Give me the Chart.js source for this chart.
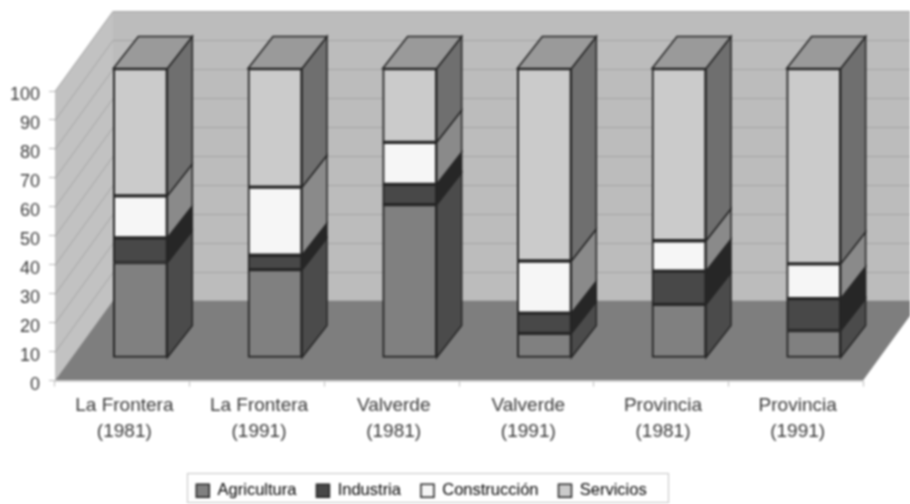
<!DOCTYPE html>
<html>
<head>
<meta charset="utf-8">
<style>
html,body{margin:0;padding:0;background:#fff}
#wrap{width:910px;height:504px;filter:blur(0.8px)}
</style>
<script src="https://cdn.jsdelivr.net/npm/chart.js@4"></script>
</head>
<body>
<div id="wrap"><canvas id="c" width="910" height="504"></canvas></div>
<script>
const categories = [["La Frontera","(1981)"],["La Frontera","(1991)"],["Valverde","(1981)"],["Valverde","(1991)"],["Provincia","(1981)"],["Provincia","(1991)"]];
const agricultura  = [33, 30.5, 53, 8.5, 18.5, 9.5];
const industria    = [8.5, 5, 7, 7, 11.5, 11];
const construccion = [14.5, 23.5, 14.5, 18, 10.5, 12];
const servicios    = [44, 41, 25.5, 66.5, 59.5, 67.5];
const yTicks = [0,10,20,30,40,50,60,70,80,90,100];

const seriesStyle = [
  {front:'#808080', side:'#4b4b4b'},
  {front:'#484848', side:'#262626'},
  {front:'#f6f6f6', side:'#8a8a8a'},
  {front:'#cbcbcb', side:'#6f6f6f'}
];
const TOP_FACE='#9a9a9a', EDGE='#262626';
const WALL={dx:58,dy:80}, BAR={sx:18,sy:22.5,dx:25,dy:32};

function poly(ctx,pts,fill,stroke,lw){
  ctx.beginPath();
  pts.forEach((p,i)=>i?ctx.lineTo(p[0],p[1]):ctx.moveTo(p[0],p[1]));
  ctx.closePath();
  if(fill){ctx.fillStyle=fill;ctx.fill();}
  if(stroke){ctx.strokeStyle=stroke;ctx.lineWidth=lw||1;ctx.stroke();}
}

const box3d = {
  id:'box3d',
  afterLayout(chart){
    const l=chart.legend; l.left-=10; l.right-=10; l.top+=6; l.bottom+=6;
  },
  beforeDatasetsDraw(chart){
    const {ctx,scales:{x,y}}=chart;
    const L=x.left,R=x.right,Y0=y.getPixelForValue(0),Y100=y.getPixelForValue(100);
    const {dx,dy}=WALL;
    ctx.save();
    poly(ctx,[[L+dx,Y100-dy],[R+dx,Y100-dy],[R+dx,Y0-dy],[L+dx,Y0-dy]],'#bcbcbc');
    poly(ctx,[[L,Y100],[L+dx,Y100-dy],[L+dx,Y0-dy],[L,Y0]],'#c2c2c2');
    ctx.strokeStyle='#a4a4a4';ctx.lineWidth=1;
    yTicks.forEach(t=>{
      if(t===0)return;
      const p=Math.round(y.getPixelForValue(t))+.5;
      ctx.beginPath();ctx.moveTo(L,p);ctx.lineTo(L+dx,p-dy);ctx.lineTo(R+dx,p-dy);ctx.stroke();
    });
    poly(ctx,[[L,Y0],[L+dx,Y0-dy],[R+dx,Y0-dy],[R,Y0]],'#7e7e7e');
    ctx.strokeStyle='#c8c8c8';ctx.lineWidth=1.5;
    ctx.beginPath();ctx.moveTo(L,Y0+.5);ctx.lineTo(R,Y0+.5);ctx.stroke();
    const n=chart.data.datasets.length;
    for(let d=0;d<n;d++){
      chart.getDatasetMeta(d).data.forEach(el=>{
        const r=el.x+el.width/2+BAR.sx, l=el.x-el.width/2+BAR.sx;
        const t=el.y-BAR.sy, b=el.base-BAR.sy;
        poly(ctx,[[r,t],[r+BAR.dx,t-BAR.dy],[r+BAR.dx,b-BAR.dy],[r,b]],seriesStyle[d].side,EDGE,1.5);
        if(d===n-1) poly(ctx,[[l,t],[l+BAR.dx,t-BAR.dy],[r+BAR.dx,t-BAR.dy],[r,t]],TOP_FACE,EDGE,1.5);
      });
    }
    ctx.restore();
    ctx.save();
    ctx.translate(BAR.sx,-BAR.sy);
  },
  afterDatasetsDraw(chart){
    chart.ctx.restore();
  },
  beforeDraw(chart){
    const ctx=chart.ctx;
    ctx.save();
    ctx.fillStyle='#fff';ctx.fillRect(0,0,chart.width,chart.height);
    ctx.strokeStyle='#c4c4c4';ctx.lineWidth=1;
    ctx.strokeRect(187.5,473.5,481,29);
    ctx.restore();
  }
};

const mk=(label,data,i)=>({label,data,backgroundColor:seriesStyle[i].front,borderColor:EDGE,borderWidth:2,borderSkipped:false,barThickness:54,stack:'s'});

new Chart(document.getElementById('c'),{
  type:'bar',
  data:{labels:categories,datasets:[
    mk('Agricultura',agricultura,0),
    mk('Industria',industria,1),
    mk('Construcción',construccion,2),
    mk('Servicios',servicios,3)
  ]},
  options:{
    responsive:false,animation:false,
    layout:{padding:{top:91,right:47,left:0,bottom:1}},
    plugins:{
      tooltip:{enabled:false},
      legend:{position:'bottom',labels:{boxWidth:13,boxHeight:13,padding:20,color:'#3a3a3a',font:{family:'Liberation Sans',size:16.5},
        generateLabels(chart){return chart.data.datasets.map((d,i)=>({text:d.label,fillStyle:d.backgroundColor,strokeStyle:'#222',lineWidth:1.5,datasetIndex:i}));}}}
    },
    scales:{
      x:{stacked:true,offset:true,
        grid:{drawOnChartArea:false,drawTicks:true,tickLength:6,color:'#bbb'},border:{display:false},
        ticks:{color:'#3a3a3a',font:{family:'Liberation Sans',size:19,lineHeight:1.37},maxRotation:0,autoSkip:false,padding:6,labelOffset:2},
        afterFit(s){s.height=76;}
      },
      y:{stacked:true,min:0,max:100,
        grid:{drawOnChartArea:false,drawTicks:true,tickLength:6,color:'#bbb'},border:{display:false},
        ticks:{stepSize:10,color:'#3a3a3a',font:{family:'Liberation Sans',size:18},padding:9,labelOffset:4.5},
        afterFit(s){s.width=55;}
      }
    }
  },
  plugins:[box3d]
});
</script>
</body>
</html>
